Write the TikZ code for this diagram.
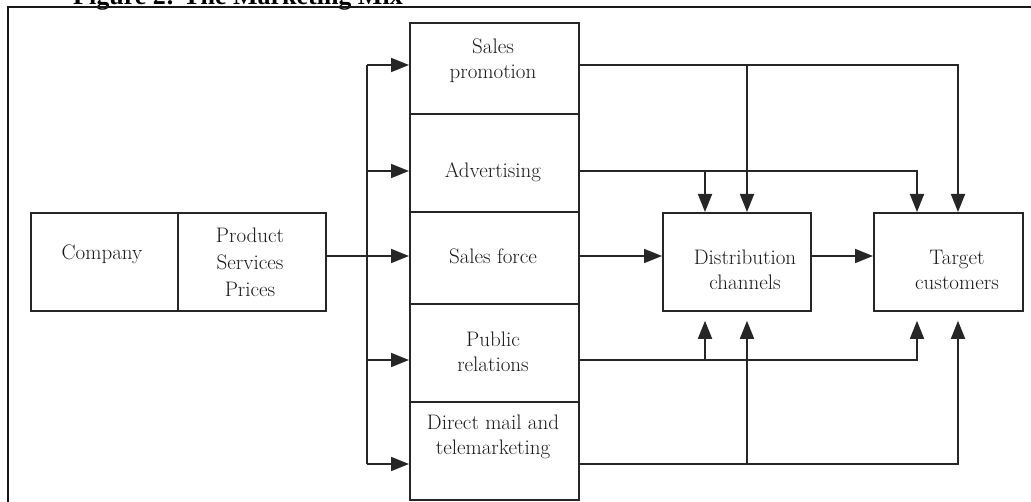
\documentclass[tikz,border=0pt]{standalone}
\usepackage{fontspec}
\newfontfamily\titlefont{Liberation Serif}
\usetikzlibrary{arrows.meta}
\begin{document}
\begin{tikzpicture}[x=1pt,y=-1pt,
  line/.style={draw=black!85, line width=1.8pt},
  arr/.style={line, -{Triangle[length=18pt,width=14pt]}},
  box/.style={draw=black!85, line width=1.8pt, inner sep=0pt, anchor=north west},
  lbl/.style={font=\fontsize{21}{25}\selectfont, align=center, inner sep=0pt, text=black!90},
]
\useasboundingbox (0,0) rectangle (1031,502);
% title and frame
\node[anchor=base west, inner sep=0pt, font=\titlefont\bfseries\fontsize{26}{30}\selectfont] (title) at (73,5) {Figure 2: The Marketing Mix};
\draw[draw=black!90, line width=2.5pt] (8,510) -- (8,7) -- (1040,7);
% boxes
\node[box, minimum width=147pt, minimum height=98pt] (company) at (30,212) {};
\node[box, minimum width=148pt, minimum height=98pt] (product) at (177,212) {};
\node[box, minimum width=169pt, minimum height=91pt] (sp) at (409,22) {};
\node[box, minimum width=169pt, minimum height=98pt] (adv) at (409,113) {};
\node[box, minimum width=169pt, minimum height=92pt] (sf) at (409,211) {};
\node[box, minimum width=169pt, minimum height=98pt] (pr) at (409,303) {};
\node[box, minimum width=169pt, minimum height=98pt] (dm) at (409,401) {};
\node[box, minimum width=148pt, minimum height=98pt] (dist) at (662,212) {};
\node[box, minimum width=149pt, minimum height=98pt] (tgt) at (873,212) {};
% labels
\node[lbl] (tcompany) at (102,254) {Company};
\node[lbl, font=\fontsize{21}{27}\selectfont] (tproduct) at (250,262) {Product\\Services\\Prices};
\node[lbl] (tsp) at (493,61) {Sales\\promotion};
\node[lbl] (tadv) at (493,172) {Advertising};
\node[lbl] (tsf) at (493,256) {Sales force};
\node[lbl] (tpr) at (493,352) {Public\\relations};
\node[lbl] (tdm) at (493,437) {Direct mail and\\telemarketing};
\node[lbl] (tdist) at (745,270) {Distribution\\channels};
\node[lbl] (ttgt) at (957,270) {Target\\customers};
% bus and levels
\coordinate (b1) at (367,65);
\coordinate (b2) at (367,171);
\coordinate (b3) at (367,256);
\coordinate (b4) at (367,360);
\coordinate (b5) at (367,464);
\coordinate (dx1) at (705,0);
\coordinate (dx2) at (747,0);
\coordinate (tx1) at (917,0);
\coordinate (tx2) at (958,0);
\draw[line] (b1) -- (b5);
\draw[arr] (b1) -- (b1 -| sp.west);
\draw[arr] (b2) -- (b2 -| adv.west);
\draw[arr] (product.east |- b3) -- (b3 -| sf.west);
\draw[arr] (b4) -- (b4 -| pr.west);
\draw[arr] (b5) -- (b5 -| dm.west);
% right side
\draw[arr] (sp.east |- b1) -| (tx2 |- tgt.north);
\draw[arr] (dx2 |- b1) -- (dx2 |- dist.north);
\draw[arr] (adv.east |- b2) -| (tx1 |- tgt.north);
\draw[arr] (dx1 |- b2) -- (dx1 |- dist.north);
\draw[arr] (sf.east |- b3) -- (dist.west |- b3);
\draw[arr] (dist.east |- b3) -- (tgt.west |- b3);
\draw[arr, shorten >=9pt] (pr.east |- b4) -| (tx1 |- tgt.south);
\draw[arr, shorten >=9pt] (dx1 |- b4) -- (dx1 |- dist.south);
\draw[arr, shorten >=9pt] (dm.east |- b5) -| (tx2 |- tgt.south);
\draw[arr, shorten >=9pt] (dx2 |- b5) -- (dx2 |- dist.south);
\end{tikzpicture}
\end{document}
